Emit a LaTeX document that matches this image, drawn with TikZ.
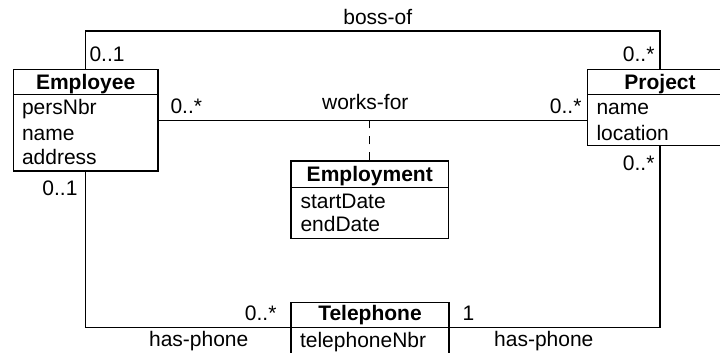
\documentclass[tikz,border=0pt]{standalone}
\usepackage{fontspec}
\setmainfont{Liberation Sans}
\begin{document}
\begin{tikzpicture}[x=1pt,y=-1pt,
  line width=1.1pt,
  every node/.style={font=\fontsize{21}{25}\selectfont, inner sep=0pt},
  classbox/.style={draw, rectangle, line width=1.1pt},
  title/.style={anchor=base, font=\fontsize{21}{25}\selectfont\bfseries},
  attr/.style={anchor=base west},
  mult/.style={anchor=base},
  assoc/.style={draw, line width=1.1pt},
  linkdash/.style={draw, line width=1.1pt, dash pattern=on 8pt off 8pt}
]
\useasboundingbox (0,0) rectangle (720,353);
\clip (0,0) rectangle (720,353);

% class boxes
\node[classbox, minimum width=144.7pt, minimum height=101.7pt] (emp) at (85.65,120.15) {};
\node[classbox, minimum width=145.4pt, minimum height=76.4pt] (proj) at (660,107.5) {};
\node[classbox, minimum width=157.5pt, minimum height=77.3pt] (empl) at (369.75,199.65) {};
\node[classbox, minimum width=158pt, minimum height=70pt] (tel) at (370,337.3) {};

% header separators
\coordinate (emphdrL) at (13.3,94.7);
\coordinate (emphdrR) at (158,94.7);
\coordinate (projhdrL) at (587.3,94.3);
\coordinate (projhdrR) at (732.7,94.3);
\coordinate (emplhdrL) at (291,187.7);
\coordinate (emplhdrR) at (448.5,187.7);
\coordinate (telhdrL) at (291,327.7);
\coordinate (telhdrR) at (449,327.7);
\draw (emphdrL) -- (emphdrR);
\draw (projhdrL) -- (projhdrR);
\draw (emplhdrL) -- (emplhdrR);
\draw (telhdrL) -- (telhdrR);

% class names and attributes
\node[title] (empT) at (85.65,89.3) {Employee};
\node[attr] (empA1) at (21.5,114.3) {persNbr};
\node[attr] (empA2) at (21.5,140) {name};
\node[attr] (empA3) at (21.5,164.3) {address};

\node[title] (projT) at (660,89.3) {Project};
\node[attr] (projA1) at (596,114.3) {name};
\node[attr] (projA2) at (596,140) {location};

\node[title] (emplT) at (369.75,181.7) {Employment};
\node[attr] (emplA1) at (300,208.3) {startDate};
\node[attr] (emplA2) at (300,231.7) {endDate};

\node[title] (telT) at (370,320.5) {Telephone};
\node[attr] (telA1) at (299.5,347.3) {telephoneNbr};

% associations
\coordinate (bosstop) at (373,31);
\draw[assoc] (emp.north) |- (bosstop) -| (proj.north);
\draw[assoc] (emp.east) -- (emp.east -| proj.west);
\draw[linkdash] (empl.north) -- (empl.north |- emp.east);
\draw[assoc] (emp.south) |- (telhdrL);
\draw[assoc] (telhdrR) -| (proj.south);

% association labels and multiplicities
\node[mult] (lboss) at (377.8,25) {boss-of};
\node[mult, anchor=base west] (m1) at (89,62) {0..1};
\node[mult, anchor=base east] (m2) at (655,62) {0..*};
\node[mult] (lworks) at (365.3,109) {works-for};
\node[mult, anchor=base west] (m3) at (170,113.3) {0..*};
\node[mult, anchor=base east] (m4) at (582,113.3) {0..*};
\node[mult, anchor=base east] (m5) at (655,170) {0..*};
\node[mult, anchor=base east] (m6) at (78,195) {0..1};
\node[mult, anchor=base east] (m7) at (277,320.5) {0..*};
\node[mult, anchor=base west] (m8) at (462,320.5) {1};
\node[mult] (lphone1) at (198.7,346.7) {has-phone};
\node[mult] (lphone2) at (543.8,346.7) {has-phone};
\end{tikzpicture}
\end{document}
